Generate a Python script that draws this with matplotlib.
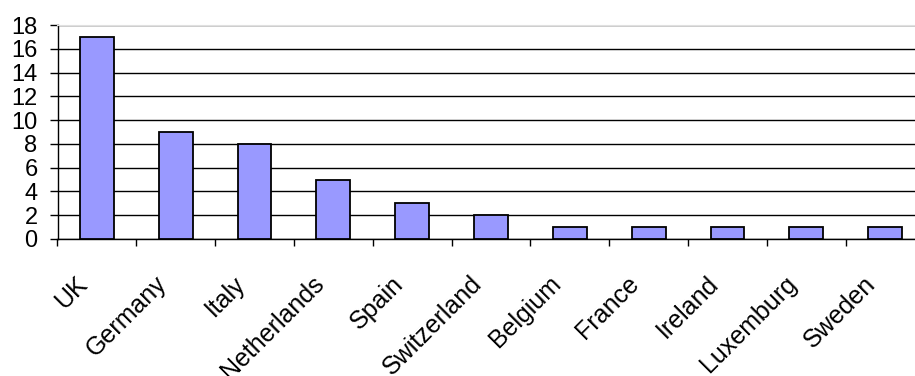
import matplotlib
matplotlib.use("Agg")
import matplotlib.pyplot as plt
import numpy as np

plt.rcParams['font.family'] = ['Liberation Sans', 'DejaVu Sans']

countries = ['UK', 'Germany', 'Italy', 'Netherlands', 'Spain', 'Switzerland',
             'Belgium', 'France', 'Ireland', 'Luxemburg', 'Sweden']
counts = [17, 9, 8, 5, 3, 2, 1, 1, 1, 1, 1]

fig = plt.figure(figsize=(9.15, 3.76), dpi=100)
# plot area runs a little past the right edge of the figure
ax = fig.add_axes([57.5 / 915, 1 - 239 / 376, 867 / 915, 214 / 376])

x = np.arange(len(countries))
ax.bar(x, counts, width=0.43, color='#9999ff', edgecolor='black', linewidth=1.3, zorder=3)

ax.set_xlim(-0.5, len(countries) - 0.5)
ax.set_ylim(0, 18)
ax.set_yticks(range(0, 19, 2))
ax.tick_params(axis='y', labelsize=17, length=5.8, width=1, direction='out', pad=8.6)
ax.grid(axis='y', color='black', linewidth=1, zorder=0)

# category ticks sit on the boundaries between bars
ax.set_xticks(np.arange(len(countries) + 1) - 0.5)
ax.set_xticklabels([])
ax.tick_params(axis='x', length=5, width=1, direction='out')
for i, name in enumerate(countries):
    ax.annotate(name, xy=(i, 0), xycoords='data', xytext=(-15.5, -23.5),
                textcoords='offset points', rotation=45, ha='right', va='top',
                rotation_mode='anchor', fontsize=18)

ax.spines['top'].set_color('#e0e0e0')
ax.spines['right'].set_visible(False)
ax.spines['left'].set_linewidth(1)
ax.spines['bottom'].set_linewidth(1)

fig.savefig('out.png', dpi=100)
